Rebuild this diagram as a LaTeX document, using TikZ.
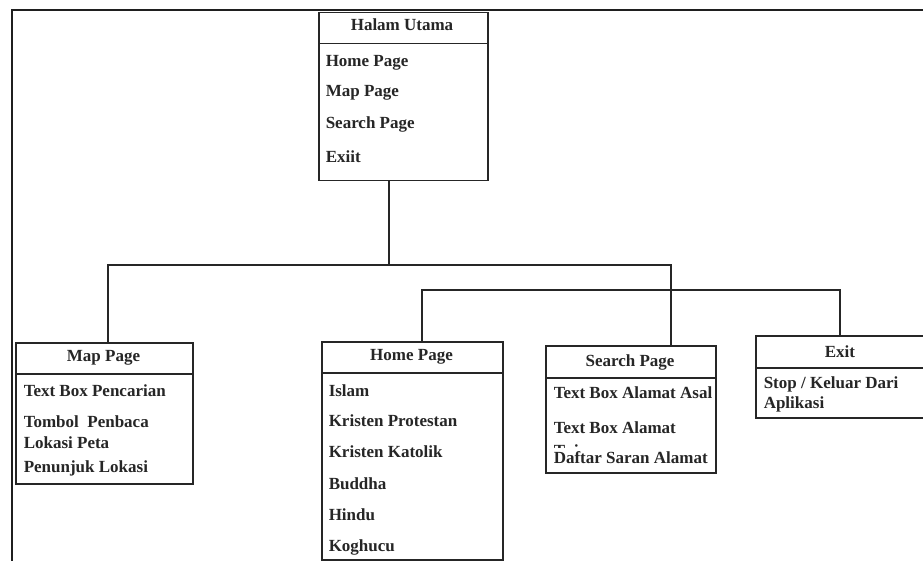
\documentclass[tikz,border=0pt]{standalone}
\usepackage{fontspec}
\setmainfont{Liberation Serif}
\begin{document}
\begin{tikzpicture}[x=1pt,y=-1pt,
  line width=1.5pt,
  frame/.style={draw=black!88, line width=2pt},
  hdr/.style={draw=black!85, rectangle, inner sep=0pt, anchor=north west},
  bodybox/.style={draw=black!85, rectangle, inner sep=0pt, anchor=north west},
  txt/.style={anchor=base west, inner sep=0pt, font=\fontsize{17}{19}\selectfont\bfseries, text=black!85},
  title/.style={anchor=base, inner sep=0pt, font=\fontsize{17}{19}\selectfont\bfseries, text=black!85},
  link/.style={draw=black!85, line width=1.6pt}
]
\clip (0,0) rectangle (923,561);
\fill[white] (0,0) rectangle (923,561);

% outer frame (top and left edges)
\coordinate (fA) at (12,561);
\coordinate (fB) at (12,10);
\coordinate (fC) at (930,10);
\draw[frame] (fA) -- (fB) -- (fC);

% ---------- Halam Utama ----------
\node[hdr, minimum width=169pt, minimum height=31pt] (mainH) at (318,12) {};
\node[bodybox, minimum width=169pt, minimum height=137pt] (mainB) at (318,43) {};
\node[title] (mainT) at (402,31) {Halam Utama};
\node[txt] (m1) at (325,67) {Home Page};
\node[txt] (m2) at (325,97) {Map Page};
\node[txt] (m3) at (325,129) {Search Page};
\node[txt] (m4) at (325,163) {Exiit};

% ---------- Map Page ----------
\node[hdr, minimum width=177pt, minimum height=31pt] (mapH) at (15,342) {};
\node[bodybox, minimum width=177pt, minimum height=110pt] (mapB) at (15,373) {};
\node[title] (mapT) at (103.5,361) {Map Page};
\node[txt] (p1) at (23,396) {Text Box Pencarian};
\node[txt] (p2) at (23,427) {Tombol\ \ Penbaca};
\node[txt] (p3) at (23,448) {Lokasi Peta};
\node[txt] (p4) at (23,472) {Penunjuk Lokasi};

% ---------- Home Page ----------
\node[hdr, minimum width=181pt, minimum height=31pt] (homeH) at (321,341) {};
\node[bodybox, minimum width=181pt, minimum height=187pt] (homeB) at (321,372) {};
\node[title] (homeT) at (411.5,360) {Home Page};
\node[txt] (h1) at (328,396) {Islam};
\node[txt] (h2) at (328,426) {Kristen Protestan};
\node[txt] (h3) at (328,457) {Kristen Katolik};
\node[txt] (h4) at (328,489) {Buddha};
\node[txt] (h5) at (328,520) {Hindu};
\node[txt] (h6) at (328,551) {Koghucu};

% ---------- Search Page ----------
\node[hdr, minimum width=170pt, minimum height=32pt] (srchH) at (545,345) {};
\node[bodybox, minimum width=170pt, minimum height=95pt] (srchB) at (545,377) {};
\node[title] (srchT) at (630,366) {Search Page};
\node[txt] (s1) at (553,398) {Text Box Alamat Asal};
\node[txt] (s2) at (553,433) {Text Box Alamat};
% second line of the entry, mostly hidden under the next entry
\begin{scope}
  \clip (546,440) rectangle (714,447);
  \node[txt] (s3) at (553,456) {Tujuan};
\end{scope}
\node[txt] (s4) at (553,463) {Daftar Saran Alamat};

% ---------- Exit ----------
\node[hdr, minimum width=172pt, minimum height=32pt] (exitH) at (755,335) {};
\node[bodybox, minimum width=172pt, minimum height=50pt] (exitB) at (755,367) {};
\node[title] (exitT) at (840,357) {Exit};
\node[txt] (e1) at (763,388) {Stop / Keluar Dari};
\node[txt] (e2) at (763,408) {Aplikasi};

% ---------- connectors ----------
\coordinate (jTop) at (389,180);
\coordinate (j1) at (389,265);
\coordinate (j1L) at (108,265);
\coordinate (j1R) at (671,265);
\coordinate (j2L) at (422,290);
\coordinate (j2R) at (840,290);

\draw[link] (mainB.south -| jTop) -- (j1);
\draw[link] (mapH.north -| j1L) -- (j1L) -- (j1R) -- (srchH.north -| j1R);
\draw[link] (homeH.north -| j2L) -- (j2L) -- (j2R) -- (exitH.north -| j2R);
\end{tikzpicture}
\end{document}
